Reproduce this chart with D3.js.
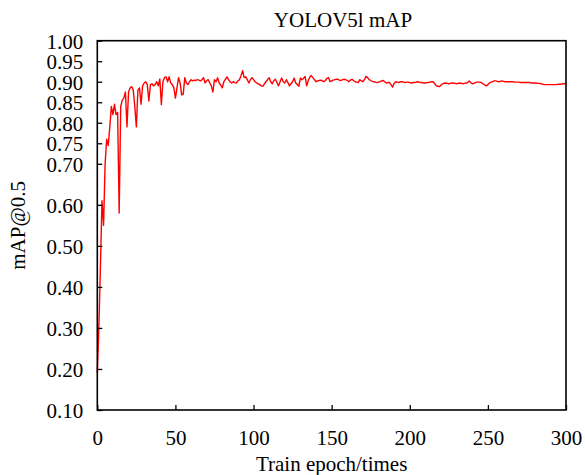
<!DOCTYPE html>
<html>
<head>
<meta charset="utf-8">
<script src="https://cdn.jsdelivr.net/npm/d3@7"></script>
<style>
  html, body { margin: 0; padding: 0; background: #fff; }
  svg { display: block; }
  text { font-family: "Liberation Serif", "Times New Roman", serif; fill: #000; }
</style>
</head>
<body>
<script>
const title = "YOLOV5l mAP";
const xLabel = "Train epoch/times";
const yLabel = "mAP@0.5";
const xTicks = [0, 50, 100, 150, 200, 250, 300];
const yTicks = [0.10, 0.20, 0.30, 0.40, 0.50, 0.60, 0.70, 0.75, 0.80, 0.85, 0.90, 0.95, 1.00];

// mAP@0.5 per epoch, 0..300
const mapValues = [
  0.19, 0.30, 0.45, 0.61, 0.55, 0.70, 0.76, 0.745, 0.79, 0.84,
  0.82, 0.845, 0.82, 0.825, 0.58, 0.84, 0.855, 0.86, 0.875, 0.79,
  0.875, 0.885, 0.888, 0.88, 0.84, 0.79, 0.88, 0.885, 0.845, 0.89,
  0.897, 0.90, 0.893, 0.853, 0.893, 0.895, 0.89, 0.893, 0.90, 0.89,
  0.907, 0.844, 0.90, 0.91, 0.912, 0.90, 0.912, 0.897, 0.893, 0.885,
  0.86, 0.885, 0.91, 0.897, 0.868, 0.87, 0.91, 0.897, 0.893, 0.90,
  0.905, 0.902, 0.904, 0.903, 0.905, 0.904, 0.902, 0.905, 0.91, 0.897,
  0.903, 0.905, 0.897, 0.89, 0.875, 0.905, 0.90, 0.91, 0.897, 0.892,
  0.885, 0.90, 0.906, 0.912, 0.905, 0.90, 0.897, 0.90, 0.898, 0.897,
  0.902, 0.905, 0.915, 0.927, 0.91, 0.912, 0.905, 0.897, 0.905, 0.91,
  0.905, 0.90, 0.897, 0.895, 0.893, 0.89, 0.889, 0.895, 0.90, 0.905,
  0.91, 0.90, 0.895, 0.903, 0.906, 0.898, 0.89, 0.90, 0.909, 0.90,
  0.897, 0.905, 0.898, 0.89, 0.895, 0.90, 0.909, 0.897, 0.893, 0.889,
  0.909, 0.905, 0.908, 0.913, 0.89, 0.903, 0.911, 0.915, 0.91, 0.905,
  0.90, 0.902, 0.903, 0.904, 0.902, 0.90, 0.903, 0.908, 0.91, 0.90,
  0.902, 0.904, 0.905, 0.906, 0.906, 0.904, 0.903, 0.905, 0.906, 0.905,
  0.903, 0.90, 0.904, 0.906, 0.903, 0.90, 0.899, 0.898, 0.905, 0.902,
  0.90, 0.905, 0.913, 0.91, 0.905, 0.903, 0.901, 0.90, 0.899, 0.898,
  0.899, 0.90, 0.902, 0.903, 0.90, 0.897, 0.898, 0.898, 0.893, 0.887,
  0.896, 0.90, 0.899, 0.898, 0.90, 0.90, 0.899, 0.898, 0.899, 0.899,
  0.898, 0.897, 0.898, 0.898, 0.899, 0.90, 0.899, 0.898, 0.898, 0.897,
  0.897, 0.898, 0.898, 0.899, 0.90, 0.90, 0.895, 0.89, 0.889, 0.888,
  0.892, 0.895, 0.896, 0.897, 0.896, 0.895, 0.896, 0.897, 0.897, 0.896,
  0.895, 0.896, 0.897, 0.896, 0.895, 0.896, 0.897, 0.898, 0.902, 0.898,
  0.895, 0.896, 0.898, 0.899, 0.899, 0.899, 0.897, 0.895, 0.892, 0.89,
  0.893, 0.897, 0.899, 0.90, 0.902, 0.902, 0.901, 0.90, 0.901, 0.902,
  0.901, 0.90, 0.90, 0.90, 0.90, 0.90, 0.90, 0.899, 0.899, 0.899,
  0.899, 0.898, 0.898, 0.898, 0.898, 0.898, 0.898, 0.898, 0.897, 0.897,
  0.897, 0.897, 0.896, 0.896, 0.895, 0.894, 0.893, 0.893, 0.893, 0.893,
  0.893, 0.893, 0.893, 0.893, 0.893, 0.894, 0.894, 0.894, 0.895, 0.895,
  0.896
];
const epochs = mapValues.map((_, i) => i);

const W = 585, H = 475;
const margin = { left: 97.3, right: 19, top: 40.7, bottom: 65 };

const svg = d3.select("body").append("svg")
  .attr("width", W).attr("height", H);
svg.append("rect").attr("width", W).attr("height", H).attr("fill", "#fff");

const x = d3.scaleLinear().domain([0, 300]).range([margin.left, W - margin.right]);
const y = d3.scaleLinear().domain([0.1, 1.0]).range([H - margin.bottom, margin.top]);

// line
const line = d3.line()
  .x((d, i) => x(epochs[i]))
  .y(d => y(d));

svg.append("path")
  .datum(mapValues)
  .attr("fill", "none")
  .attr("stroke", "#ff0000")
  .attr("stroke-width", 1.4)
  .attr("stroke-linejoin", "round")
  .attr("d", line);

// axes with inward ticks
const xAxis = d3.axisBottom(x).tickValues(xTicks).tickSize(-5).tickPadding(20)
  .tickFormat(d3.format("d"));
const gx = svg.append("g")
  .attr("transform", `translate(0,${y(0.1)})`)
  .call(xAxis);
gx.select(".domain").remove();
gx.selectAll(".tick line").attr("stroke", "#000").attr("stroke-width", 1.3);
gx.selectAll("text").attr("font-size", 21).attr("font-family", "Liberation Serif");

const yAxis = d3.axisLeft(y).tickValues(yTicks).tickSize(-5).tickPadding(14)
  .tickFormat(d3.format(".2f"));
const gy = svg.append("g")
  .attr("transform", `translate(${x(0)},0)`)
  .call(yAxis);
gy.select(".domain").remove();
gy.selectAll(".tick line").attr("stroke", "#000").attr("stroke-width", 1.3);
gy.selectAll("text").attr("font-size", 21).attr("font-family", "Liberation Serif")
  .attr("dy", "0.36em");

// frame
svg.append("rect")
  .attr("x", x(0)).attr("y", y(1.0))
  .attr("width", x(300) - x(0)).attr("height", y(0.1) - y(1.0))
  .attr("fill", "none").attr("stroke", "#000").attr("stroke-width", 1.6);

// title & labels
svg.append("text")
  .attr("x", 343).attr("y", 27)
  .attr("text-anchor", "middle").attr("font-size", 21)
  .text(title);

svg.append("text")
  .attr("x", (x(0) + x(300)) / 2).attr("y", 471)
  .attr("text-anchor", "middle").attr("font-size", 21)
  .text(xLabel);

svg.append("text")
  .attr("transform", `translate(25,${(y(0.1) + y(1.0)) / 2}) rotate(-90)`)
  .attr("text-anchor", "middle").attr("font-size", 21)
  .text(yLabel);
</script>
</body>
</html>
